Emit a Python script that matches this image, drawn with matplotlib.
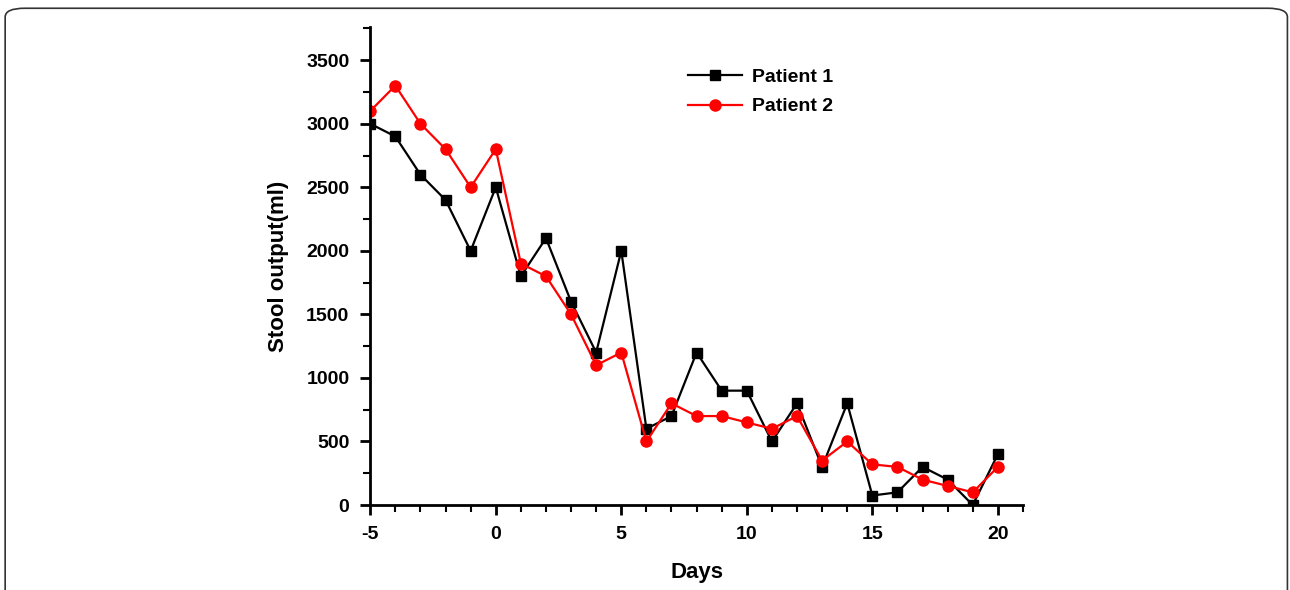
import numpy as np
import matplotlib.pyplot as plt
from matplotlib.patches import FancyBboxPatch
from matplotlib.ticker import MultipleLocator

days = list(range(-5, 21))
patient1 = [3000, 2900, 2600, 2400, 2000, 2500, 1800, 2100, 1600, 1200, 2000, 600, 700,
            1200, 900, 900, 500, 800, 300, 800, 75, 100, 300, 200, 0, 400]
patient2 = [3100, 3300, 3000, 2800, 2500, 2800, 1900, 1800, 1500, 1100, 1200, 500, 800,
            700, 700, 650, 600, 700, 350, 500, 320, 300, 200, 150, 100, 300]

plt.rcParams['font.family'] = ['Liberation Sans', 'DejaVu Sans']
plt.rcParams['font.weight'] = 'bold'
plt.rcParams['axes.unicode_minus'] = False

fig = plt.figure(figsize=(12.9, 5.9), dpi=100)
ax = fig.add_axes([0.287, 0.144, 0.506, 0.81])

# rounded frame around the whole figure
frame = FancyBboxPatch((0.004, -0.05), 0.994, 1.036, boxstyle='round,pad=0,rounding_size=0.015',
                       transform=fig.transFigure, fill=False, edgecolor='#333333', linewidth=1.2,
                       clip_on=False)
fig.patches.append(frame)

ax.plot(days, patient1, color='black', marker='s', markersize=7.5, linewidth=1.6, label='Patient 1')
ax.plot(days, patient2, color='red', marker='o', markersize=8, linewidth=1.6, label='Patient 2')

ax.set_xlim(-5, 21)
ax.set_ylim(0, 3760)
ax.xaxis.set_major_locator(MultipleLocator(5))
ax.xaxis.set_minor_locator(MultipleLocator(1))
ax.yaxis.set_minor_locator(MultipleLocator(250))
ax.set_yticks(np.arange(0, 3501, 500))

for s in ['top', 'right']:
    ax.spines[s].set_visible(False)
for s in ['left', 'bottom']:
    ax.spines[s].set_linewidth(2)

ax.tick_params(which='major', direction='out', length=7, width=2, labelsize=14, pad=8)
ax.tick_params(which='minor', direction='out', length=5, width=1.5)
for lab in ax.get_xticklabels() + ax.get_yticklabels():
    lab.set_fontweight('bold')

ax.set_xlabel('Days', fontsize=16, fontweight='bold', labelpad=14)
ax.set_ylabel('Stool output(ml)', fontsize=16, fontweight='bold', labelpad=12)

ax.legend(loc='upper left', bbox_to_anchor=(0.46, 0.95), frameon=False,
          prop={'weight': 'bold', 'size': 14}, handlelength=2.8, handletextpad=0.5,
          labelspacing=0.6)

plt.savefig('out.png', dpi=100)
